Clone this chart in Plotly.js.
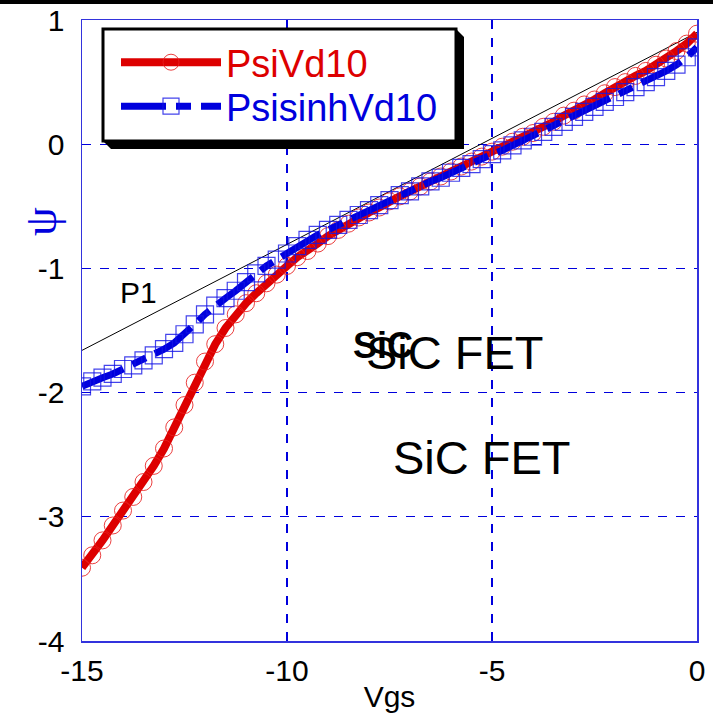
<!DOCTYPE html>
<html><head><meta charset="utf-8">
<script src="https://cdn.plot.ly/plotly-3.0.1.min.js"></script>
<style>html,body{margin:0;padding:0;background:#fff}#chart{width:713px;height:716px}</style>
</head><body><div id="chart"></div>
<script>
const vgs = [-15,-14.75,-14.5,-14.25,-14,-13.75,-13.5,-13.25,-13,-12.75,-12.5,-12.25,-12,-11.75,-11.5,-11.25,-11,-10.75,-10.5,-10.25,-10,-9.75,-9.5,-9.25,-9,-8.75,-8.5,-8.25,-8,-7.75,-7.5,-7.25,-7,-6.75,-6.5,-6.25,-6,-5.75,-5.5,-5.25,-5,-4.75,-4.5,-4.25,-4,-3.75,-3.5,-3.25,-3,-2.75,-2.5,-2.25,-2,-1.75,-1.5,-1.25,-1,-0.75,-0.5,-0.25,0];
const psiVd10 = [-3.41,-3.31,-3.19,-3.07,-2.95,-2.84,-2.72,-2.59,-2.45,-2.28,-2.10,-1.92,-1.75,-1.61,-1.48,-1.37,-1.28,-1.20,-1.12,-1.05,-0.98,-0.91,-0.86,-0.80,-0.74,-0.69,-0.64,-0.59,-0.55,-0.51,-0.46,-0.42,-0.38,-0.34,-0.30,-0.26,-0.22,-0.18,-0.14,-0.10,-0.06,-0.02,0.02,0.06,0.09,0.14,0.18,0.23,0.27,0.32,0.36,0.41,0.46,0.50,0.55,0.59,0.64,0.69,0.75,0.81,0.89];
const psisinhVd10 = [-1.95,-1.91,-1.88,-1.85,-1.81,-1.78,-1.74,-1.70,-1.65,-1.60,-1.53,-1.45,-1.37,-1.30,-1.24,-1.18,-1.11,-1.04,-0.98,-0.93,-0.88,-0.82,-0.77,-0.73,-0.69,-0.65,-0.61,-0.57,-0.53,-0.49,-0.45,-0.41,-0.38,-0.34,-0.30,-0.27,-0.23,-0.19,-0.16,-0.12,-0.08,-0.05,-0.01,0.03,0.06,0.10,0.14,0.18,0.22,0.26,0.30,0.34,0.38,0.42,0.46,0.50,0.54,0.59,0.64,0.70,0.78];
const p1X = [-15, 0];
const p1Y = [-1.66, 0.90];
const xTicks = [-15,-10,-5,0];
const xTickText = ['-15','-10','-5','0'];
const yTicks = [1,0,-1,-2,-3,-4];
const yTickText = ['1','0','-1','-2','-3','-4'];

const RED = '#DD0000', BLUE = 'rgb(0,0,221)';
const FONT = 'Liberation Sans, Arial, sans-serif';

const traces = [
  {x: p1X, y: p1Y, mode:'lines', line:{color:'#000', width:1}, showlegend:false, hoverinfo:'skip'},
  {x: vgs, y: psiVd10, mode:'lines+markers', name:'<span style="color:#DD0000">PsiVd10</span>', legend:'legend',
   line:{color:RED, width:8}, marker:{symbol:'circle-open', size:17, color:'rgba(230,30,30,0.85)', line:{width:1}}},
  {x: vgs, y: psisinhVd10, mode:'lines+markers', name:'<span style="color:#0000DD">PsisinhVd10</span>', legend:'legend2',
   line:{color:'#0000DD', width:7, dash:'45px,10px,15px,10px'}, marker:{symbol:'square-open', size:17, color:'rgba(20,20,230,0.8)', line:{width:1.2}}}
];

const W = 615, H = 621, L = 82, T = 20;
const px = v => (v - L) / W;
const py = v => (T + H - v) / H;
const shadowPath = 'M ' + px(456) + ',' + py(29) + ' L ' + px(464) + ',' + py(37) + ' L ' + px(464) + ',' + py(149) +
  ' L ' + px(111) + ',' + py(149) + ' L ' + px(103) + ',' + py(141) + ' Z';

const legendBase = {xanchor:'left', yanchor:'top', bgcolor:'rgba(0,0,0,0)', borderwidth:0,
    itemwidth:100, font:{size:38, family:FONT}};

const axisCommon = {showgrid:true, gridcolor:BLUE, griddash:'dash',
    showline:true, linecolor:'#3333DD', linewidth:1.5, mirror:true, zeroline:false, ticks:'',
    tickfont:{size:30, family:FONT, color:'#000'}};

const layout = {
  width:713, height:716,
  margin:{l:82, r:16, t:20, b:75},
  paper_bgcolor:'#fff', plot_bgcolor:'#fff',
  font:{family:FONT, size:30, color:'#000'},
  xaxis:Object.assign({}, axisCommon, {range:[-15,0], tickvals:xTicks, ticktext:xTickText, ticklabelstandoff:2, gridwidth:1.6,
    title:{text:'Vgs', font:{size:30, family:FONT}, standoff:0}}),
  yaxis:Object.assign({}, axisCommon, {range:[-4,1], tickvals:yTicks, ticktext:yTickText, ticklabelstandoff:10, gridwidth:1}),
  showlegend:true,
  legend:Object.assign({}, legendBase, {x:px(116), y:py(31)}),
  legend2:Object.assign({}, legendBase, {x:px(116), y:py(75)}),
  shapes:[
    {type:'path', xref:'paper', yref:'paper', path:shadowPath, fillcolor:'#000', line:{width:0}, layer:'above'},
    {type:'rect', xref:'paper', yref:'paper', x0:px(103), x1:px(456), y0:py(141), y1:py(29), fillcolor:'#fff', line:{color:'#000', width:3}, layer:'above'},
    {type:'rect', xref:'paper', yref:'paper', x0:px(0), x1:px(713), y0:py(4), y1:py(0), fillcolor:'#000', line:{width:0}, layer:'above'}
  ],
  annotations:[
    {xref:'paper', yref:'paper', x:px(40), y:py(222), xanchor:'center', yanchor:'middle', text:'ψ', textangle:-90, showarrow:false, font:{size:46, color:'#0000DD', family:'Liberation Serif, DejaVu Serif, serif'}},
    {x:-13.62, y:-1.19, text:'P1', showarrow:false, font:{size:30, family:FONT}},
    {x:-5.90, y:-1.675, text:'SiC FET', showarrow:false, font:{size:47, family:FONT}},
    {x:-7.66, y:-1.62, text:'<b>SiC</b>', showarrow:false, font:{size:36, family:FONT}},
    {x:-5.24, y:-2.52, text:'SiC FET', showarrow:false, font:{size:47, family:FONT}}
  ]
};
Plotly.newPlot('chart', traces, layout, {staticPlot:true});
</script></body></html>
